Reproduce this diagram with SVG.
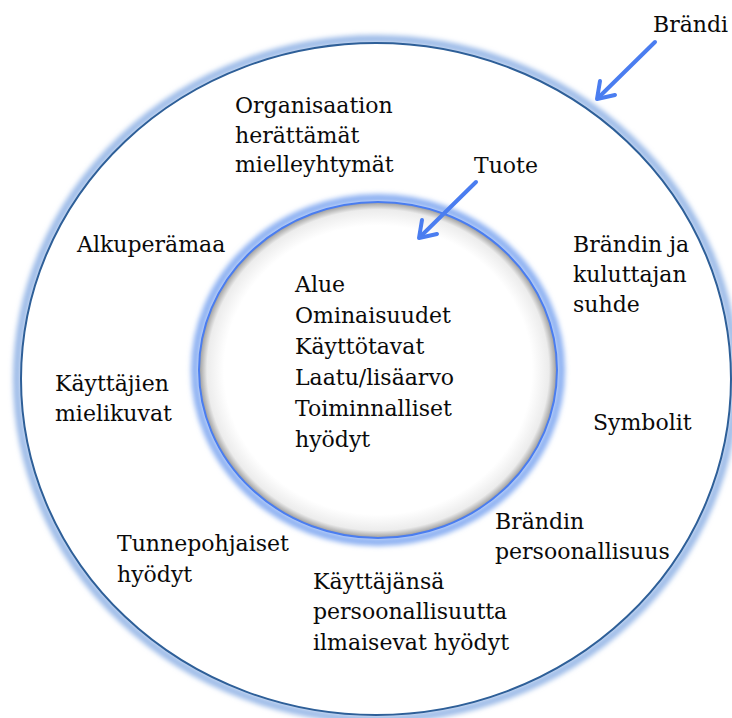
<svg xmlns="http://www.w3.org/2000/svg" width="732" height="718" viewBox="0 0 732 718">
<style>
text{font-family:"DejaVu Serif","Liberation Serif",serif;font-size:22px;fill:#0a0a0a}
.arrow{stroke:#4a7df0;stroke-width:4;fill:none;stroke-linecap:round;stroke-linejoin:round}
</style>
<defs>
<filter id="blur" x="-10%" y="-10%" width="120%" height="120%"><feGaussianBlur stdDeviation="2.5"/></filter>
<radialGradient id="innerShade" cx="0.5" cy="0.5" r="0.5">
<stop offset="0.86" stop-color="#ffffff"/>
<stop offset="0.955" stop-color="#ececec"/>
<stop offset="1" stop-color="#9a9a9a"/>
</radialGradient>
</defs>
<rect width="732" height="718" fill="#ffffff"/>
<g id="brandi">
<ellipse cx="376" cy="379" rx="359" ry="340" fill="none" stroke="#9dbbe8" stroke-width="8" filter="url(#blur)"/>
<ellipse cx="376" cy="379" rx="355" ry="336" fill="#ffffff" stroke="#2e5f98" stroke-width="2"/>
<text x="653" y="32">Brändi</text>
</g>
<g id="tuote">
<ellipse cx="378" cy="370" rx="183" ry="172" fill="none" stroke="#8cb0f2" stroke-width="8" filter="url(#blur)"/>
<ellipse cx="378" cy="370" rx="179" ry="168" fill="url(#innerShade)" stroke="#4a7df0" stroke-width="2"/>
<text x="474" y="173">Tuote</text>
</g>
<g id="tuote-ominaisuudet">
<text x="295" y="292">Alue</text>
<text x="295" y="323">Ominaisuudet</text>
<text x="295" y="354">Käyttötavat</text>
<text x="295" y="385">Laatu/lisäarvo</text>
<text x="295" y="416">Toiminnalliset</text>
<text x="295" y="447">hyödyt</text>
</g>
<g id="organisaatio">
<text x="235" y="113">Organisaation</text>
<text x="235" y="143">herättämät</text>
<text x="235" y="172">mielleyhtymät</text>
</g>
<g id="alkuperamaa"><text x="77" y="252">Alkuperämaa</text></g>
<g id="suhde">
<text x="573" y="252">Brändin ja</text>
<text x="573" y="282">kuluttajan</text>
<text x="573" y="312">suhde</text>
</g>
<g id="mielikuvat">
<text x="55" y="391">Käyttäjien</text>
<text x="55" y="421">mielikuvat</text>
</g>
<g id="symbolit"><text x="593" y="430">Symbolit</text></g>
<g id="persoonallisuus">
<text x="495" y="529">Brändin</text>
<text x="495" y="559">persoonallisuus</text>
</g>
<g id="tunnepohjaiset">
<text x="117" y="551">Tunnepohjaiset</text>
<text x="117" y="582">hyödyt</text>
</g>
<g id="ilmaisevat">
<text x="313" y="589">Käyttäjänsä</text>
<text x="313" y="619">persoonallisuutta</text>
<text x="313" y="650">ilmaisevat hyödyt</text>
</g>
<g id="connectors">
<path class="arrow" d="M655 42 L598 98"/>
<path class="arrow" d="M600 81 L597 99 L615 95"/>
<path class="arrow" d="M476 182 L420 237"/>
<path class="arrow" d="M422 220 L419 238 L437 234"/>
</g>
</svg>
